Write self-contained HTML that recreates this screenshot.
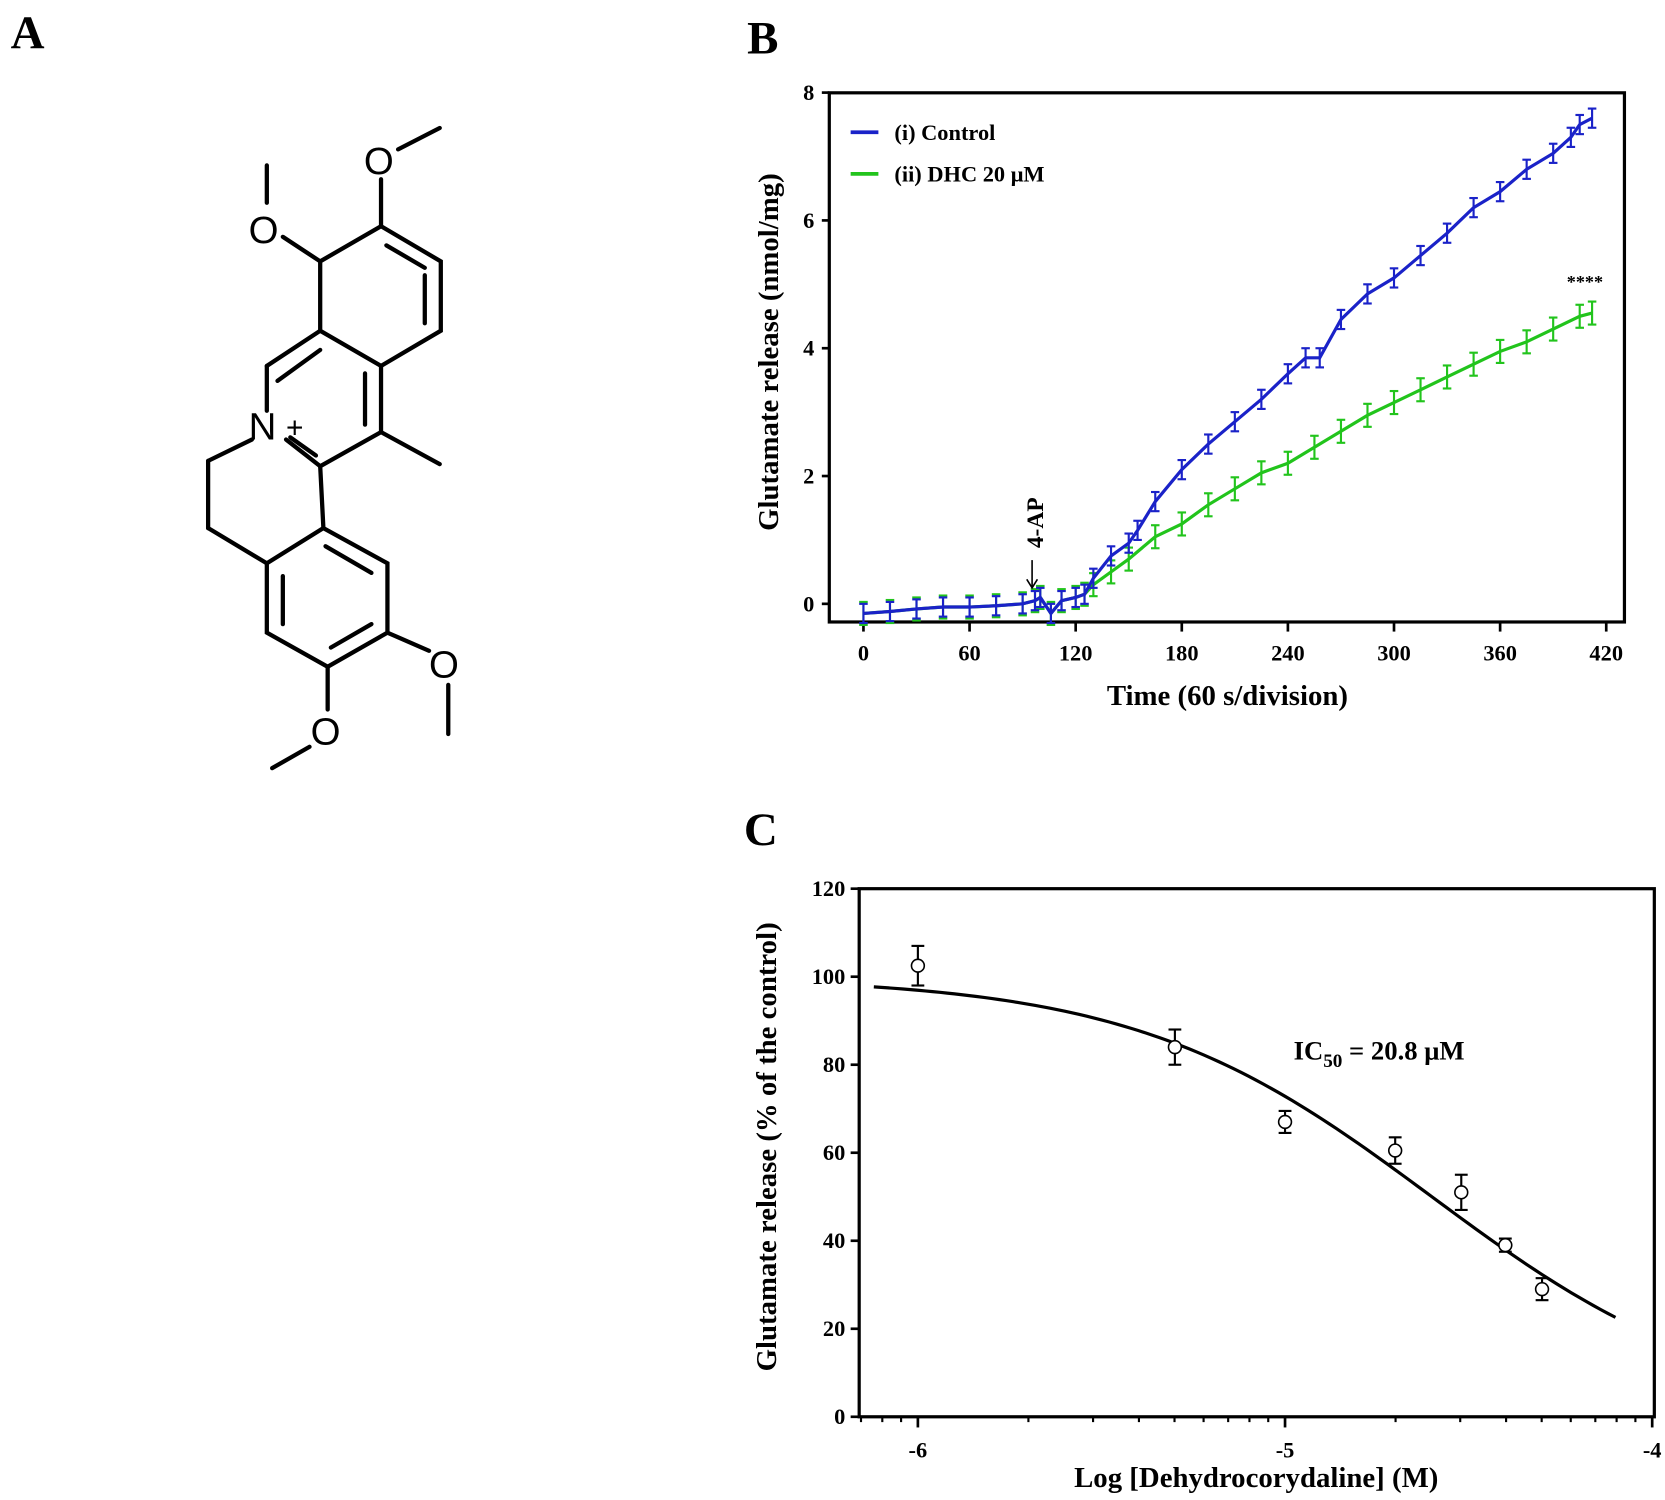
<!DOCTYPE html>
<html><head><style>html,body{margin:0;padding:0;background:#fff}svg{display:block}text{font-family:"Liberation Serif",serif;font-weight:bold}</style></head>
<body>
<svg id="s" width="1665" height="1500" viewBox="0 0 1560 1406" preserveAspectRatio="none" xmlns="http://www.w3.org/2000/svg">
<text x="10" y="45" font-size="44">A</text>
<text x="700" y="50" font-size="44">B</text>
<text x="697" y="792" font-size="44">C</text>
<g stroke="#000" stroke-width="4" fill="none" stroke-linecap="round">
<polyline points="300,245 357,212 413,245 413,310 357,343 300,310 300,245"/>
<line x1="362" y1="230" x2="398" y2="251"/><line x1="398" y1="258" x2="398" y2="303"/>
<line x1="357" y1="343" x2="357" y2="405"/><line x1="357" y1="405" x2="300" y2="437"/>
<line x1="300" y1="437" x2="268" y2="412"/>
<line x1="250" y1="385" x2="250" y2="343"/><line x1="250" y1="343" x2="300" y2="310"/>
<line x1="260" y1="357" x2="300" y2="328"/><line x1="342" y1="350" x2="342" y2="398"/>
<line x1="272" y1="410" x2="296" y2="427"/>
<line x1="357" y1="405" x2="412" y2="435"/>
<line x1="236" y1="412" x2="195" y2="432"/><line x1="195" y1="432" x2="195" y2="495"/><line x1="195" y1="495" x2="250" y2="528"/>
<line x1="300" y1="437" x2="303" y2="495"/>
<polyline points="303,495 363,528 363,593 307,625 250,593 250,528 303,495"/>
<line x1="305" y1="512" x2="348" y2="537"/><line x1="348" y1="585" x2="310" y2="607"/><line x1="265" y1="540" x2="265" y2="585"/>
<line x1="363" y1="593" x2="402" y2="610"/><line x1="420" y1="642" x2="420" y2="688"/>
<line x1="307" y1="625" x2="307" y2="665"/><line x1="290" y1="700" x2="255" y2="720"/>
<line x1="300" y1="245" x2="265" y2="222"/><line x1="250" y1="190" x2="250" y2="155"/>
<line x1="357" y1="212" x2="357" y2="168"/><line x1="373" y1="140" x2="412" y2="120"/>
</g>
<g>
<text x="233" y="228" font-size="36" style="font-family:'Liberation Sans';font-weight:normal">O</text>
<text x="341" y="163" font-size="36" style="font-family:'Liberation Sans';font-weight:normal">O</text>
<text x="233" y="412" font-size="36" style="font-family:'Liberation Sans';font-weight:normal">N</text>
<text x="268" y="410" font-size="28" style="font-family:'Liberation Sans';font-weight:normal">+</text>
<text x="402" y="635" font-size="36" style="font-family:'Liberation Sans';font-weight:normal">O</text>
<text x="291" y="698" font-size="36" style="font-family:'Liberation Sans';font-weight:normal">O</text>
</g>
<g id="B"></g><g id="C"></g>
</svg>
<script>
var NS="http://www.w3.org/2000/svg";
function el(p,t,a,txt){var e=document.createElementNS(NS,t);for(var k in a)e.setAttribute(k,a[k]);if(txt!==undefined)e.textContent=txt;p.appendChild(e);return e;}
var B=document.getElementById('B'),C=document.getElementById('C');
el(B,'rect',{x:777,y:87,width:745,height:496,fill:'none',stroke:'#000','stroke-width':3});
function bx(t){return 809+t*1.657} function by(v){return 566-v*59.9}
for(var v=0;v<=8;v+=2){el(B,'line',{x1:770,x2:777,y1:by(v),y2:by(v),stroke:'#000','stroke-width':2.5});el(B,'text',{x:763,y:by(v)+7,'font-size':21,'text-anchor':'end'},v);}
for(var t=0;t<=420;t+=60){el(B,'line',{x1:bx(t),x2:bx(t),y1:583,y2:592,stroke:'#000','stroke-width':2.5});el(B,'text',{x:bx(t),y:619,'font-size':21,'text-anchor':'middle'},t);}
el(B,'text',{x:1150,y:661,'font-size':27,'text-anchor':'middle'},'Time (60 s/division)');
el(B,'text',{x:0,y:0,'font-size':27,'text-anchor':'middle',transform:'translate(729,330) rotate(-90)'},'Glutamate release (nmol/mg)');
var base=[[0,-0.15],[15,-0.12],[30,-0.08],[45,-0.05],[60,-0.05],[75,-0.03],[90,0],[97,0.05],[100,0.1],[106,-0.15],[112,0.05],[120,0.1],[125,0.15]];
var blue=base.concat([[130,0.4],[140,0.75],[150,0.95],[155,1.15],[165,1.6],[180,2.1],[195,2.5],[210,2.85],[225,3.2],[240,3.6],[250,3.85],[258,3.85],[270,4.45],[285,4.85],[300,5.1],[315,5.45],[330,5.8],[345,6.2],[360,6.45],[375,6.8],[390,7.05],[400,7.3],[405,7.5],[412,7.6]]);
var green=base.concat([[130,0.3],[140,0.5],[150,0.7],[165,1.05],[180,1.25],[195,1.55],[210,1.8],[225,2.05],[240,2.2],[255,2.45],[270,2.7],[285,2.95],[300,3.15],[315,3.35],[330,3.55],[345,3.75],[360,3.95],[375,4.1],[390,4.3],[405,4.5],[412,4.55]]);
function series(d,col,e){var pts=d.map(function(p){return bx(p[0])+','+by(p[1])}).join(' ');
 el(B,'polyline',{points:pts,fill:'none',stroke:col,'stroke-width':3});
 d.forEach(function(p){var x=bx(p[0]);el(B,'line',{x1:x,x2:x,y1:by(p[1]+e),y2:by(p[1]-e),stroke:col,'stroke-width':2});
 [p[1]+e,p[1]-e].forEach(function(q){el(B,'line',{x1:x-4,x2:x+4,y1:by(q),y2:by(q),stroke:col,'stroke-width':2})});});}
series(green,'#22c41c',0.18);series(blue,'#1a22c8',0.15);
el(B,'line',{x1:797,x2:823,y1:124,y2:124,stroke:'#1a22c8','stroke-width':3.5});
el(B,'text',{x:838,y:131,'font-size':21},'(i) Control');
el(B,'line',{x1:797,x2:823,y1:163,y2:163,stroke:'#22c41c','stroke-width':3.5});
el(B,'text',{x:838,y:170,'font-size':21},'(ii) DHC 20 \u03bcM');
el(B,'text',{x:1468,y:270,'font-size':17,'font-weight':'normal'},'****');
el(B,'text',{x:0,y:0,'font-size':22,'text-anchor':'middle',transform:'translate(977,490) rotate(-90)'},'4-AP');
el(B,'line',{x1:967,x2:967,y1:525,y2:550,stroke:'#000','stroke-width':1.5});
el(B,'polyline',{points:'962,543 967,551 972,543',fill:'none',stroke:'#000','stroke-width':1.5});
el(C,'rect',{x:805,y:833,width:745,height:495,fill:'none',stroke:'#000','stroke-width':3});
function cx(x){return 860+(x+6)*344} function cy(v){return 1328-v*4.125}
for(var v=0;v<=120;v+=20){el(C,'line',{x1:797,x2:805,y1:cy(v),y2:cy(v),stroke:'#000','stroke-width':2.5});el(C,'text',{x:792,y:cy(v)+7,'font-size':21,'text-anchor':'end'},v);}
[-6,-5,-4].forEach(function(x){el(C,'line',{x1:cx(x),x2:cx(x),y1:1328,y2:1338,stroke:'#000','stroke-width':2.5});el(C,'text',{x:cx(x),y:1366,'font-size':21,'text-anchor':'middle'},x);});
[-7,-6,-5].forEach(function(d){for(var k=2;k<=9;k++){var x=d+Math.log10(k);var px=cx(x);if(px>805&&px<1550)el(C,'line',{x1:px,x2:px,y1:1328,y2:1333,stroke:'#000','stroke-width':2});}});
el(C,'text',{x:1177,y:1394,'font-size':27,'text-anchor':'middle'},'Log [Dehydrocorydaline] (M)');
el(C,'text',{x:0,y:0,'font-size':27,'text-anchor':'middle',transform:'translate(727,1075) rotate(-90)'},'Glutamate release (% of the control)');
var pts=[];for(var x=-6.12;x<=-4.1;x+=0.02){var y=100/(1+Math.pow(10,(x+4.6)*1.07));pts.push(cx(x)+','+cy(y));}
el(C,'polyline',{points:pts.join(' '),fill:'none',stroke:'#000','stroke-width':3});
[[-6,102.5,4.5],[-5.3,84,4],[-5,67,2.5],[-4.7,60.5,3],[-4.52,51,4],[-4.4,39,1.5],[-4.3,29,2.5]].forEach(function(p){var x=cx(p[0]);
 el(C,'line',{x1:x,x2:x,y1:cy(p[1]+p[2]),y2:cy(p[1]-p[2]),stroke:'#000','stroke-width':2});
 [p[1]+p[2],p[1]-p[2]].forEach(function(q){el(C,'line',{x1:x-6,x2:x+6,y1:cy(q),y2:cy(q),stroke:'#000','stroke-width':2})});
 el(C,'circle',{cx:x,cy:cy(p[1]),r:6,fill:'#fff',stroke:'#000','stroke-width':1.5});});
var t=el(C,'text',{x:1212,y:993,'font-size':25});
t.appendChild(document.createTextNode('IC'));el(t,'tspan',{dy:7,'font-size':18},'50');el(t,'tspan',{dy:-7},' = 20.8 \u03bcM');
</script>
</body></html>
